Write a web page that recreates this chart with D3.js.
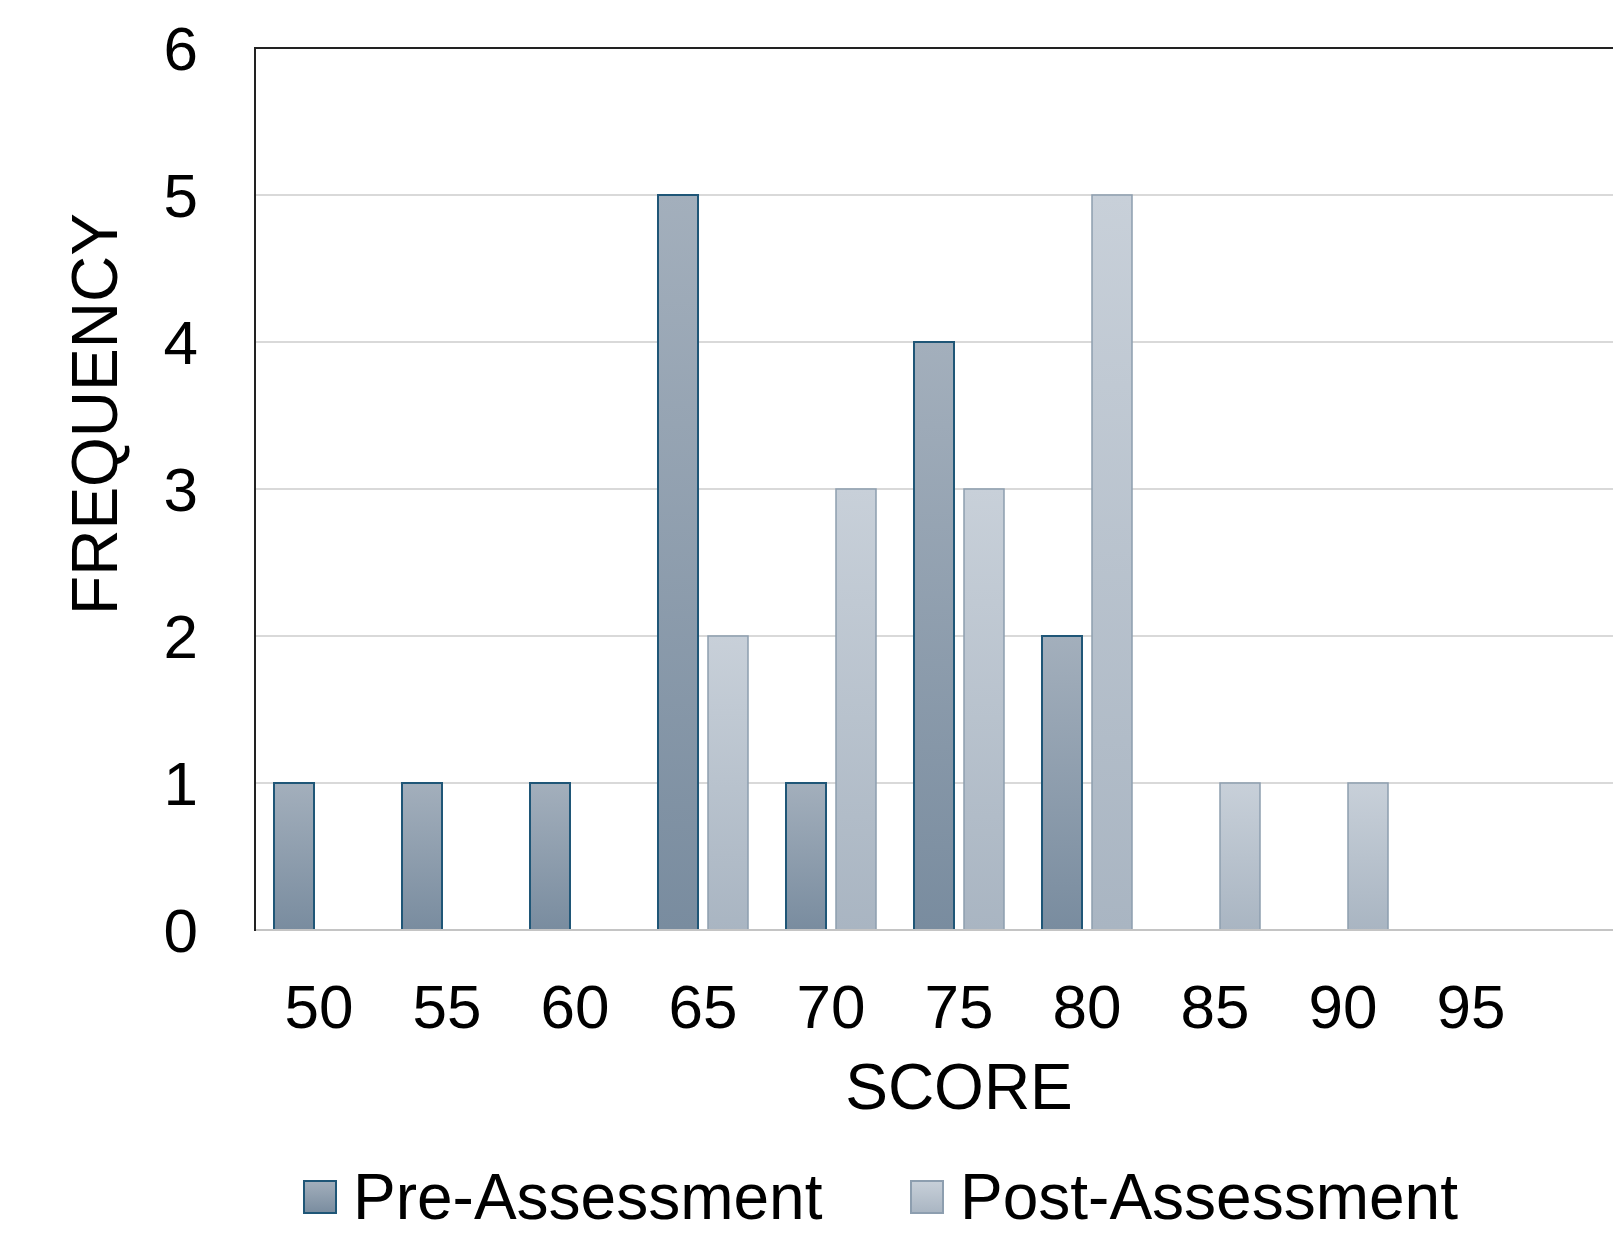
<!DOCTYPE html>
<html>
<head>
<meta charset="utf-8">
<script src="https://cdn.jsdelivr.net/npm/d3@7"></script>
<style>
  html, body { margin: 0; padding: 0; background: #fff; overflow: hidden; }
  svg { display: block; font-family: "Liberation Sans", Arial, sans-serif; }
</style>
</head>
<body>
<svg id="chart" width="1613" height="1237"></svg>
<script>
// Score bins; the trailing blank bin leaves room on the right of the frame.
const scores = ["50", "55", "60", "65", "70", "75", "80", "85", "90", "95", ""];
const preAssessment  = [1, 1, 1, 5, 1, 4, 2, 0, 0, 0, 0];
const postAssessment = [0, 0, 0, 2, 3, 3, 5, 1, 1, 0, 0];
const yTicks = [0, 1, 2, 3, 4, 5, 6];
const seriesNames = ["Pre-Assessment", "Post-Assessment"];

const svg = d3.select("#chart");
const margin = { left: 255, top: 48, bottom: 930 };
const bandW = 128;
const plotRight = margin.left + bandW * scores.length;

const x = d3.scaleBand().domain(scores).range([margin.left, plotRight]).paddingInner(0).paddingOuter(0);
// two 40px bars per bin, 10px apart, centred in the bin
const inner = d3.scaleBand().domain(seriesNames).range([19, 109]).paddingInner(0.2).paddingOuter(0);
const y = d3.scaleLinear().domain([0, 6]).range([margin.bottom, margin.top]);

// Gradients for both series
const defs = svg.append("defs");
const grads = [
  { id: "gPre", top: "#a3afbc", bottom: "#798c9f" },
  { id: "gPost", top: "#c8d0d9", bottom: "#a9b5c2" }
];
grads.forEach(g => {
  const lg = defs.append("linearGradient").attr("id", g.id)
    .attr("x1", 0).attr("y1", 0).attr("x2", 0).attr("y2", 1);
  lg.append("stop").attr("offset", "0%").attr("stop-color", g.top);
  lg.append("stop").attr("offset", "100%").attr("stop-color", g.bottom);
});
const fills = { "Pre-Assessment": "url(#gPre)", "Post-Assessment": "url(#gPost)" };
const strokes = { "Pre-Assessment": "#1f5677", "Post-Assessment": "#8d9eaf" };
const strokeW = { "Pre-Assessment": 2, "Post-Assessment": 1.5 };

// Horizontal gridlines
svg.append("g").selectAll("line").data(yTicks.filter(d => d > 0 && d < 6)).join("line")
  .attr("x1", margin.left).attr("x2", plotRight)
  .attr("y1", d => y(d)).attr("y2", d => y(d))
  .attr("stroke", "#d9d9d9").attr("stroke-width", 2);

// Bars
const rows = [];
scores.forEach((s, i) => {
  rows.push({ score: s, series: seriesNames[0], v: preAssessment[i] });
  rows.push({ score: s, series: seriesNames[1], v: postAssessment[i] });
});
svg.append("g").selectAll("rect").data(rows.filter(d => d.v > 0)).join("rect")
  .attr("x", d => x(d.score) + inner(d.series))
  .attr("width", inner.bandwidth())
  .attr("y", d => y(d.v))
  .attr("height", d => y(0) - y(d.v))
  .attr("fill", d => fills[d.series])
  .attr("stroke", d => strokes[d.series])
  .attr("stroke-width", d => strokeW[d.series]);

// Baseline
svg.append("line").attr("x1", margin.left).attr("x2", plotRight)
  .attr("y1", y(0)).attr("y2", y(0)).attr("stroke", "#c4c4c4").attr("stroke-width", 2);
// Top frame and left axis
svg.append("line").attr("x1", margin.left).attr("x2", plotRight)
  .attr("y1", y(6)).attr("y2", y(6)).attr("stroke", "#222").attr("stroke-width", 2);
svg.append("line").attr("x1", margin.left).attr("x2", margin.left)
  .attr("y1", y(6) - 1).attr("y2", y(0) + 1).attr("stroke", "#222").attr("stroke-width", 2);

// Y axis labels
const yAxis = d3.axisLeft(y).tickValues(yTicks).tickSize(0).tickPadding(0).tickFormat(d3.format("d"));
const gy = svg.append("g").attr("transform", `translate(198,0)`).call(yAxis);
gy.select(".domain").remove();
gy.selectAll("text").attr("font-size", 62).attr("fill", "#000")
  .attr("font-family", "'Liberation Sans', Arial, sans-serif").attr("dy", "0.35em");

// X axis labels
const xAxis = d3.axisBottom(x).tickSize(0).tickPadding(0);
const gx = svg.append("g").attr("transform", `translate(0,1028)`).call(xAxis);
gx.select(".domain").remove();
gx.selectAll("text").attr("font-size", 62).attr("fill", "#000").attr("dy", 0)
  .attr("font-family", "'Liberation Sans', Arial, sans-serif");

// Axis titles
svg.append("text").attr("x", 959).attr("y", 1109).attr("text-anchor", "middle")
  .attr("font-size", 64).attr("fill", "#000").text("SCORE");
svg.append("text").attr("transform", "translate(117,414) rotate(-90)").attr("text-anchor", "middle")
  .attr("font-size", 64).attr("fill", "#000").text("FREQUENCY");

// Legend
const legendPos = [304, 911];
const lg = svg.append("g").selectAll("g").data(seriesNames).join("g")
  .attr("transform", (d, i) => `translate(${legendPos[i]},1181)`);
lg.append("rect").attr("width", 32).attr("height", 32)
  .attr("fill", d => fills[d]).attr("stroke", d => strokes[d]).attr("stroke-width", 2);
lg.append("text").attr("x", 49).attr("y", 38).attr("font-size", 64).attr("fill", "#000").text(d => d);
</script>
</body>
</html>
